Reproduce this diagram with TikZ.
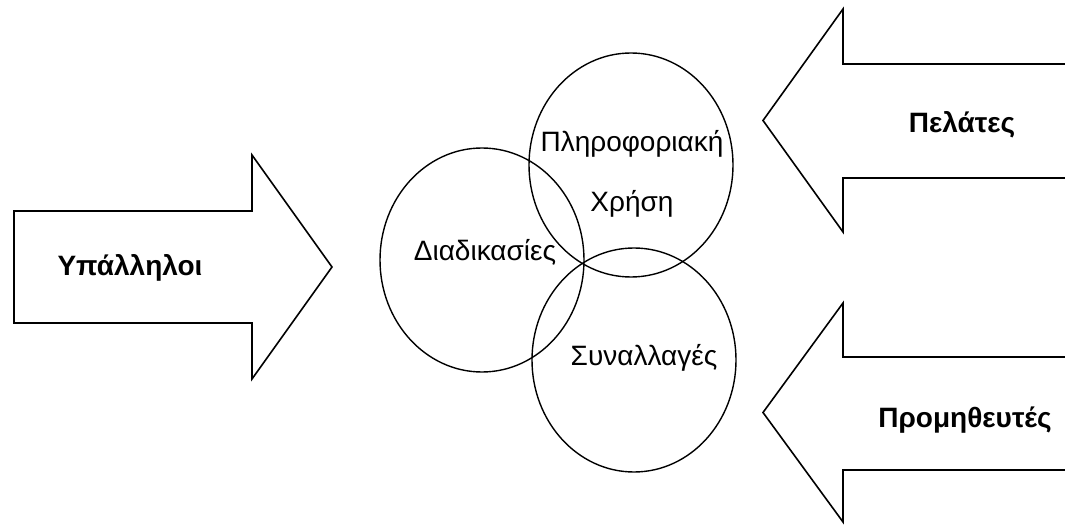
\documentclass[tikz,border=0pt]{standalone}
\usepackage{fontspec}
\setmainfont{Liberation Sans}
\usetikzlibrary{shapes.geometric}
\begin{document}
\begin{tikzpicture}[x=1pt,y=-1pt,
  outline/.style={draw=black,line width=1.6pt,line join=miter},
  ring/.style={ellipse,draw=black,line width=1.4pt,inner sep=0pt,minimum width=204pt,minimum height=224pt},
  boldlabel/.style={anchor=base,inner sep=0pt,font=\fontsize{28}{30}\selectfont\bfseries},
  plainlabel/.style={anchor=base,inner sep=0pt,font=\fontsize{28}{30}\selectfont}]
\useasboundingbox (0,0) rectangle (1065,526);
\fill[white] (0,0) rectangle (1065,526);
% left arrow
\draw[outline] (14,211) -- (252,211) -- (252,155) -- (332,267) -- (252,379) -- (252,323) -- (14,323) -- cycle;
% right arrows (open on the right edge)
\draw[outline] (1070,64) -- (843,64) -- (843,9) -- (763,120.5) -- (843,232) -- (843,178) -- (1070,178);
\draw[outline] (1070,357) -- (843,357) -- (843,303) -- (763,412.5) -- (843,522) -- (843,470) -- (1070,470);
% circles
\node[ring] (proc) at (482,260) {};
\node[ring] (info) at (631,165) {};
\node[ring] (trans) at (634,360) {};
% labels
\node[boldlabel] (empl) at (130,276) {Υπάλληλοι};
\node[boldlabel] (cust) at (962,133) {Πελάτες};
\node[boldlabel] (supp) at (965,427) {Προμηθευτές};
\node[plainlabel] (infoA) at (632,152) {Πληροφοριακή};
\node[plainlabel] (infoB) at (632,212) {Χρήση};
\node[plainlabel] (procL) at (485,261) {Διαδικασίες};
\node[plainlabel] (transL) at (644,365) {Συναλλαγές};
\end{tikzpicture}
\end{document}
